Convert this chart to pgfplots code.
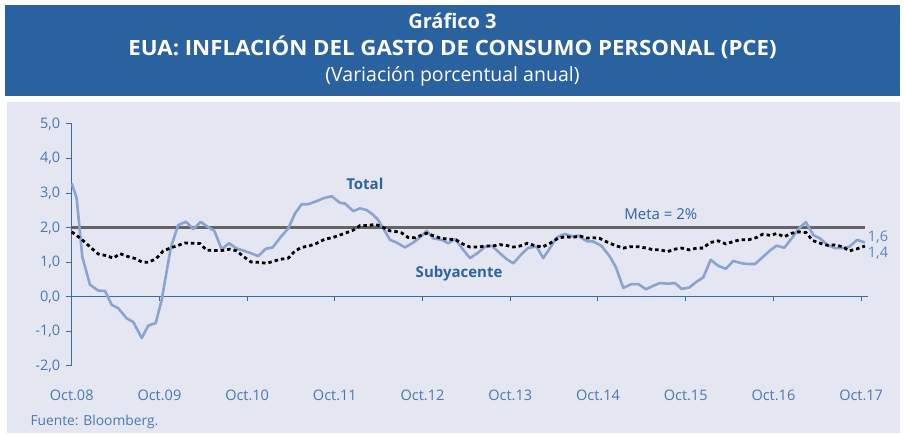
\documentclass[border=0pt]{standalone}
\usepackage{fontspec}
\setmainfont{Open Sans}
\usepackage{pgfplots}
\pgfplotsset{compat=1.18}
\definecolor{hdr}{RGB}{42,98,160}
\definecolor{panel}{RGB}{228,231,241}
\definecolor{axisblue}{RGB}{58,106,168}
\definecolor{tickblue}{RGB}{74,120,180}
\definecolor{totalc}{RGB}{140,163,207}
\definecolor{lblblue}{RGB}{46,99,163}
\definecolor{metagray}{RGB}{100,100,100}
\definecolor{endlbl}{RGB}{88,132,190}
\begin{document}
\begin{tikzpicture}[x=1pt,y=1pt]
\fill[white] (0,0) rectangle (905,435);
\fill[hdr] (5,339) rectangle (900,430);
\fill[panel] (7,2) rectangle (900,333);
\node[white,font=\fontsize{20}{23}\selectfont\bfseries] at (452.5,414) {Gráfico 3};
\node[white,font=\fontsize{21}{24}\selectfont\bfseries] at (452.5,388) {\scalebox{1.06}[1]{EUA: INFLACIÓN DEL GASTO DE CONSUMO PERSONAL (PCE)}};
\node[white,font=\fontsize{19.5}{22}\selectfont] at (452.5,359) {(Variación porcentual anual)};
\node[tickblue,font=\fontsize{13.8}{16}\selectfont,anchor=west] at (27,13.5) {Fuente: Bloomberg.};
\begin{axis}[
  at={(71.7pt,69pt)}, anchor=south west,
  width=796pt, height=242pt, scale only axis,
  xmin=0, xmax=108.9, ymin=-2, ymax=5,
  clip=false,
  separate axis lines,
  axis x line=bottom, axis y line=left,
  x axis line style={draw=none},
  y axis line style={draw=axisblue, line width=1pt, -},
  xtick={0,12,...,108},
  xticklabels={Oct.08,Oct.09,Oct.10,Oct.11,Oct.12,Oct.13,Oct.14,Oct.15,Oct.16,Oct.17},
  ytick={-2,-1,0,1,2,3,4,5},
  yticklabels={{-2,0},{-1,0},{0,0},{1,0},{2,0},{3,0},{4,0},{5,0}},
  tick align=outside,
  major tick length=6pt,
  x tick style={draw=none},
  y tick style={draw=axisblue, line width=1pt},
  ticklabel style={text=tickblue, font=\fontsize{14.5}{17}\selectfont},
  xticklabel style={yshift=-14pt},
  yticklabel style={xshift=-2pt},
]
\draw[axisblue, line width=1pt] (axis cs:0,0) -- (axis cs:108.9,0);
\pgfplotsinvokeforeach{12,24,36,48,60,72,84,96,108}{
  \draw[axisblue, line width=1pt] (axis cs:#1,0) -- ++(0pt,-4.5pt);
}
\addplot[metagray, line width=2.7pt] coordinates {(0,2) (108.5,2)};
\addplot[totalc, line width=2.6pt, line join=round] coordinates {
(0.00,3.28) (0.68,2.85) (1.45,1.16) (2.50,0.35) (3.64,0.18) (4.56,0.17)
(5.47,-0.23) (6.37,-0.33) (7.52,-0.62) (8.43,-0.73) (9.58,-1.19) (10.48,-0.83)
(11.49,-0.76) (12.31,-0.09) (13.58,1.45) (14.58,2.08) (15.64,2.17) (16.63,1.96)
(17.65,2.17) (18.55,2.03) (19.51,1.91) (20.52,1.38) (21.52,1.55) (22.57,1.40)
(23.47,1.34) (24.53,1.26) (25.53,1.18) (26.54,1.39) (27.50,1.43) (28.63,1.74)
(29.63,1.98) (30.55,2.41) (31.46,2.68) (32.37,2.68) (33.52,2.77) (34.56,2.86)
(35.57,2.91) (36.70,2.72) (37.39,2.70) (38.52,2.48) (39.44,2.56) (40.36,2.51)
(41.26,2.37) (41.94,2.22) (42.63,1.98) (43.54,1.65) (44.46,1.57) (45.60,1.43)
(46.73,1.57) (47.65,1.72) (48.56,1.91) (49.47,1.69) (50.62,1.65) (51.52,1.55)
(52.44,1.67) (53.57,1.36) (54.49,1.12) (55.62,1.28) (56.54,1.45) (57.46,1.48)
(58.59,1.26) (59.51,1.09) (60.41,0.97) (61.56,1.24) (62.46,1.42) (63.61,1.45)
(64.51,1.12) (65.43,1.41) (66.35,1.72) (67.48,1.82) (68.40,1.75) (69.30,1.77)
(70.45,1.61) (71.35,1.60) (72.50,1.47) (73.64,1.16) (74.46,0.85) (75.46,0.26)
(76.61,0.37) (77.51,0.37) (78.56,0.22) (79.56,0.32) (80.48,0.40) (81.61,0.38)
(82.53,0.40) (83.45,0.23) (84.49,0.27) (85.50,0.44) (86.40,0.56) (87.41,1.07)
(88.45,0.90) (89.49,0.81) (90.51,1.04) (91.66,0.97) (92.56,0.95) (93.47,0.95)
(94.39,1.12) (95.53,1.34) (96.44,1.48) (97.48,1.42) (98.50,1.69) (99.49,1.98)
(100.45,2.16) (101.45,1.79) (102.37,1.69) (103.42,1.50) (104.42,1.41) (105.34,1.41)
(106.38,1.45) (107.47,1.65) (108.52,1.57)
};
\addplot[black, line width=2.8pt, dash pattern=on 3.5pt off 3pt] coordinates {
(0,1.88) (0.90,1.74) (1.82,1.58) (2.74,1.40) (3.64,1.24) (4.79,1.19)
(5.69,1.12) (6.61,1.25) (7.63,1.17) (8.66,1.11) (9.69,1.00) (10.48,1.00)
(11.53,1.10) (12.53,1.33) (13.58,1.42) (14.58,1.49) (15.50,1.56) (16.63,1.55)
(17.55,1.54) (18.47,1.35) (19.60,1.34) (20.52,1.34) (21.66,1.38) (22.57,1.33)
(23.47,1.17) (24.53,1.01) (25.53,1.00) (26.68,0.97) (27.58,1.03) (28.63,1.09)
(29.63,1.12) (30.55,1.33) (31.46,1.43) (32.60,1.48) (33.52,1.55) (34.65,1.67)
(35.79,1.72) (37.39,1.84) (38.52,1.93) (39.44,2.06) (40.57,2.06) (41.49,2.10)
(42.41,2.03) (43.54,1.91) (44.36,1.89) (45.14,1.85) (46.01,1.72) (46.96,1.71)
(48.56,1.84) (49.69,1.75) (50.62,1.69) (51.52,1.67) (52.57,1.65) (53.57,1.52)
(54.49,1.44) (55.62,1.44) (56.54,1.47) (57.57,1.47) (58.59,1.51) (59.62,1.48)
(60.41,1.44) (61.33,1.47) (62.35,1.55) (63.38,1.48) (64.41,1.44) (65.43,1.55)
(66.57,1.70) (67.62,1.74) (68.51,1.72) (69.53,1.76) (70.45,1.70) (71.45,1.71)
(72.27,1.69) (73.19,1.59) (74.32,1.49) (75.46,1.41) (76.37,1.45) (77.51,1.45)
(78.66,1.41) (79.56,1.36) (80.48,1.36) (81.53,1.31) (82.53,1.38) (83.45,1.41)
(84.49,1.36) (85.50,1.41) (86.40,1.41) (87.32,1.57) (88.45,1.62) (89.49,1.53)
(90.51,1.60) (91.42,1.65) (92.56,1.65) (93.61,1.71) (94.53,1.81) (95.53,1.78)
(96.44,1.83) (97.48,1.74) (98.50,1.84) (99.49,1.88) (100.45,1.86) (101.37,1.63)
(102.37,1.55) (103.42,1.49) (104.42,1.50) (105.47,1.45) (106.38,1.33) (107.47,1.39)
(108.52,1.47)
};
\node[text=lblblue, font=\fontsize{15}{18}\selectfont\bfseries] at (axis cs:40.1,3.26) {Total};
\node[text=lblblue, font=\fontsize{15}{18}\selectfont\bfseries] at (axis cs:53.0,0.66) {Subyacente};
\node[text=lblblue, font=\fontsize{15}{18}\selectfont] at (axis cs:80.6,2.39) {Meta = 2\%};
\node[text=endlbl, font=\fontsize{14.5}{17}\selectfont, anchor=west, inner sep=0pt] at (axis cs:108.9,1.73) {1,6};
\node[text=endlbl, font=\fontsize{14.5}{17}\selectfont, anchor=west, inner sep=0pt] at (axis cs:108.9,1.27) {1,4};
\end{axis}
\end{tikzpicture}
\end{document}
